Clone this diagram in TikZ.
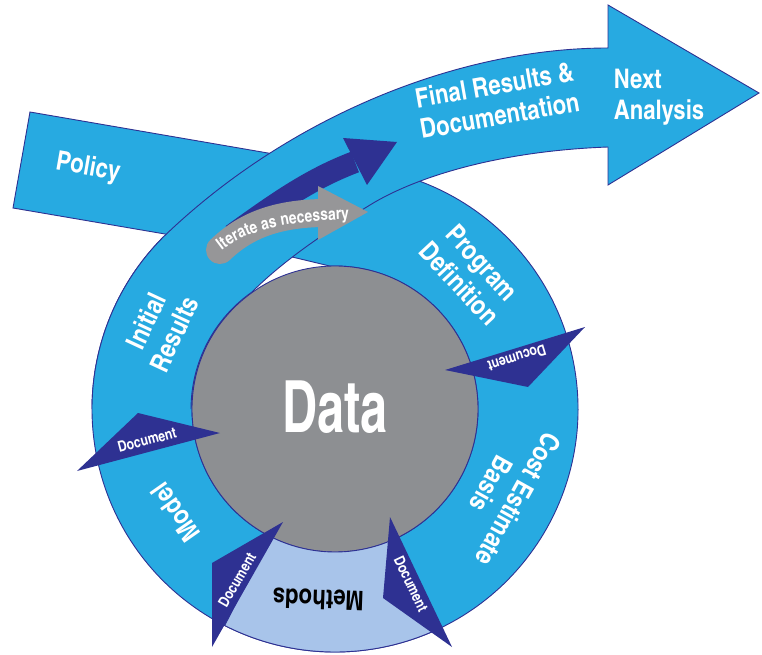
\documentclass[tikz,border=0pt]{standalone}
\usepackage{fontspec}
\setmainfont{TeX Gyre Heros Cn}
\newfontfamily\datafont[FakeStretch=0.82]{TeX Gyre Heros Cn}
\usetikzlibrary{decorations.text}

\definecolor{ringblue}{RGB}{39,170,225}
\definecolor{edgeblue}{RGB}{46,49,146}
\definecolor{docnavy}{RGB}{46,49,146}
\definecolor{datagrey}{RGB}{141,143,146}
\definecolor{methblue}{RGB}{168,196,234}
\definecolor{itergrey}{RGB}{150,150,152}

\begin{document}
\begin{tikzpicture}[
    x=1pt, y=1pt,
    % Styles
    band/.style={% For the ring, the policy bar and the big arrow
        fill=ringblue,
        draw=edgeblue,
        line width=0.9pt,
        },
    docarrow/.style={% The dark Document flags
        fill=docnavy,
        },
    ringtext/.style={% White labels on the blue parts
        text=white,
        font=\bfseries\fontsize{27}{31}\selectfont,
        align=center,
        inner sep=0pt,
        },
    doctext/.style={% Text on the Document flags
        text=white,
        font=\bfseries\fontsize{15}{15}\selectfont,
        inner sep=0pt,
        },
    ]

    \useasboundingbox (0,0) rectangle (762,654);
    \coordinate (C) at (335,245);

    % Policy bar, goes behind the ring
    \path[band] (30,542) -- (13,446) -- (200,414) -- (320,440) -- (320,492) -- cycle;

    % The ring, starts under the big arrow
    \path[band] ([shift={(92:143)}]C) -- (288,398) -- (300,470) -- ([shift={(100:243)}]C)
        arc[start angle=100, end angle=-225, radius=243]
        -- ([shift={(-225:143)}]C)
        arc[start angle=-225, end angle=92, radius=143] -- cycle;

    % Data circle and the Methods part
    \path[fill=datagrey, draw=edgeblue, line width=0.9pt] (C) circle[radius=143];
    \path[fill=methblue, draw=edgeblue, line width=0.9pt] ([shift={(243:143)}]C)
        arc[start angle=243, end angle=296, radius=143]
        -- ([shift={(296:243)}]C)
        arc[start angle=296, end angle=243, radius=243] -- cycle;

    % Big arrow out of the ring
    \path[band] ([shift={(180:243)}]C) arc[start angle=180, end angle=133, radius=243]
        .. controls (293,539) and (460,606) .. (608,606)
        -- (608,649) -- (759,561) -- (608,469) -- (608,507)
        .. controls (500,503) and (420,478) .. (375,452)
        .. controls (330,425) and (285,395) .. (252,362)
        arc[start angle=125, end angle=180, radius=143];

    % Dark arrow
    \draw[docnavy, line width=22pt] (232,419) .. controls (275,450) and (310,475) .. (355,492);
    \path[fill=docnavy] (343,516) -- (397,512) -- (367,469) -- cycle;

    % Iterate arrow
    \draw[itergrey, line width=28pt, line cap=round] (220,404) .. controls (245,428) and (275,440) .. (322,441);
    \path[fill=itergrey] (318,468) -- (368,442) -- (318,414) -- cycle;
    \path[decorate, decoration={text along path, text align=center,
        text={|\bfseries\fontsize{17}{17}\selectfont\color{white}|Iterate as necessary}}]
        (212,395) .. controls (238,421) and (275,433) .. (362,435);

    % Document flags named doc#
    \path[docarrow] (77,183) -- (138,241) -- (220,221) -- cycle;
    \path[docarrow] (445,284) -- (585,327) -- (528,267) -- cycle;
    \path[docarrow] (283,132) -- (212,91) -- (212,7) -- cycle;
    \path[docarrow] (390,137) -- (383,56) -- (452,7) -- cycle;
    \node[doctext, rotate=15] (doc1) at (147,214) {Document};
    \node[doctext, rotate=197] (doc2) at (517,296) {Document};
    \node[doctext, rotate=60] (doc3) at (237,74) {Document};
    \node[doctext, rotate=-64.5] (doc4) at (411,70) {Document};

    % Labels
    \node[ringtext, rotate=-10] (policy) at (88,486) {Policy};
    \node[ringtext, rotate=10] (final) at (497,554) {Final Results \&\\Documentation};
    \node[ringtext, align=left] (next) at (659,557) {Next\\Analysis};
    \node[ringtext, rotate=-47] (progdef) at ([shift={(45:192)}]C) {Program\\Definition};
    \node[ringtext, rotate=-119] (cost) at ([shift={(-26:189)}]C) {Cost Estimate\\Basis};
    \node[ringtext, text=black, rotate=178] (methods) at ([shift={(265:191)}]C) {Methods};
    \node[ringtext, rotate=125] (model) at ([shift={(213:190)}]C) {Model};
    \node[ringtext, rotate=65] (initial) at ([shift={(155:193)}]C) {Initial\\Results};
    \node[text=white, font=\datafont\bfseries\fontsize{72}{72}\selectfont] (data) at (335,247) {Data};

\end{tikzpicture}
\end{document}
